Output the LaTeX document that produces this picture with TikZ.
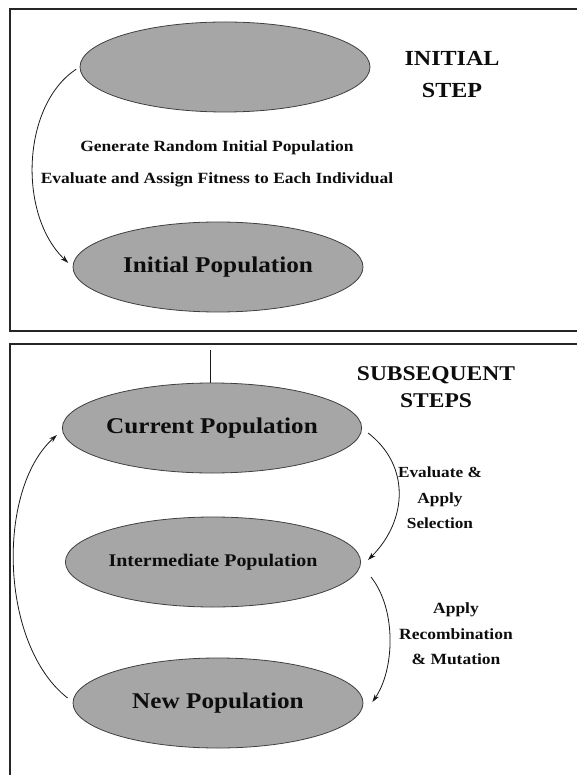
\documentclass[tikz,border=0pt]{standalone}
\usepackage{fontspec}
\setmainfont{Liberation Serif}
\newfontfamily\widefont[FakeStretch=1.12]{Liberation Serif}
\usetikzlibrary{shapes.geometric,arrows.meta}

\begin{document}
\begin{tikzpicture}[x=1pt,y=-1pt,
  panel/.style={draw=black!85,line width=1.6pt},
  pop/.style={ellipse,draw=black!75,line width=0.8pt,fill=black!35,
    minimum width=290pt,minimum height=90pt,inner sep=0pt,text=black!95},
  flow/.style={draw=black!90,line width=0.8pt,-{Stealth[length=8pt,width=5pt]}},
  head/.style={align=center,text=black!95},
  note/.style={align=center,text=black!95},
  popbig/.style={font=\widefont\bfseries\fontsize{22.5}{24}\selectfont},
  popmid/.style={font=\widefont\bfseries\fontsize{17.8}{20}\selectfont}]
\useasboundingbox (0,0) rectangle (577,775);
\clip (0,0) rectangle (577,775);
\fill[white] (0,0) rectangle (577,775);

% panels (they run past the right and bottom edges)
\draw[panel] (10,9) rectangle (600,331);
\draw[panel] (10,344) rectangle (600,800);

% initial step
\node[pop] (seed) at (225,67) {};
\node[pop,popbig] (init) at (218,267) {Initial Population};
\node[head,font=\widefont\bfseries\fontsize{21.5}{32}\selectfont] (hinit) at (452,75) {INITIAL\\STEP};
\node[note,font=\widefont\bfseries\fontsize{15.6}{32}\selectfont] (ninit) at (217,163.5) {Generate Random Initial Population\\Evaluate and Assign Fitness to Each Individual};
\draw[flow,shorten <=4pt,shorten >=6pt] (seed.west) .. controls +(-58,38) and +(-55,-52) .. (init.west);

% subsequent steps
\node[pop,popbig] (cur) at (212,428) {Current Population};
\node[pop,popmid] (mid) at (213,562) {Intermediate Population};
\node[pop,popbig] (new) at (218,703) {New Population};
\node[head,font=\widefont\bfseries\fontsize{21}{27.5}\selectfont] (hsub) at (436,387) {SUBSEQUENT\\STEPS};
\node[note,font=\widefont\bfseries\fontsize{15.4}{25.5}\selectfont] (nsel) at (440,498) {Evaluate \&\\Apply\\Selection};
\node[note,font=\widefont\bfseries\fontsize{15.6}{25.5}\selectfont] (nrec) at (456,634) {Apply\\Recombination\\\& Mutation};

\coordinate (feed) at (210,350);
\draw[draw=black!90,line width=1pt] (feed) -- (feed |- cur.north);

\draw[flow] ([shift={(6,5)}]cur.east) .. controls +(42,32) and +(40,-40) .. ([shift={(7,-2)}]mid.east);
\draw[flow] ([shift={(10,15)}]mid.east) .. controls +(26,33) and +(22,-32) .. ([shift={(9,-1)}]new.east);
\draw[flow] ([shift={(-5,-5)}]new.west) .. controls +(-68,-53) and +(-61,55) .. ([shift={(-5,7)}]cur.west);
\end{tikzpicture}
\end{document}
